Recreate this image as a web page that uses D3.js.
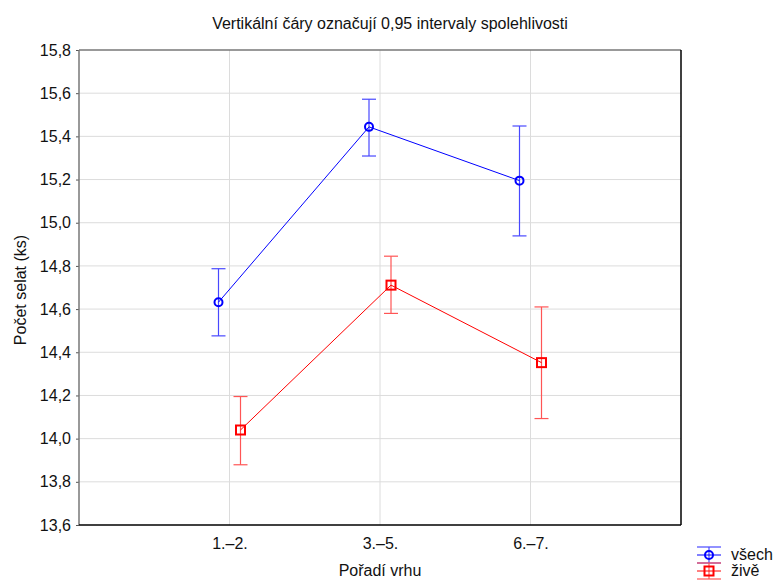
<!DOCTYPE html>
<html><head><meta charset="utf-8">
<script src="https://cdn.jsdelivr.net/npm/d3@7"></script>
<style>body{margin:0;background:#fff}svg{font-family:"Liberation Sans",Arial,sans-serif}</style>
</head><body><svg id="c" width="773" height="581"></svg>
<script>
const categories = ["1.–2.", "3.–5.", "6.–7."];
const seriesNames = ["všech", "živě"];
const vsechMean = [14.632, 15.444, 15.195];
const vsechLow = [14.476, 15.309, 14.939];
const vsechHigh = [14.787, 15.572, 15.448];
const ziveMean = [14.040, 14.711, 14.352];
const ziveLow = [13.879, 14.580, 14.093];
const ziveHigh = [14.195, 14.845, 14.610];
const yTicks = [13.6, 13.8, 14.0, 14.2, 14.4, 14.6, 14.8, 15.0, 15.2, 15.4, 15.6, 15.8];

const svg = d3.select("#c");
const L = 79, R = 681, T = 50, B = 525;
const x = d3.scalePoint().domain(["", ...categories, " "]).range([L, R]);
const y = d3.scaleLinear().domain([13.6, 15.8]).range([B, T]);
const fmt = v => d3.format(".1f")(v).replace(".", ",");

// grid
svg.append("g").selectAll("line").data(yTicks.slice(1, -1)).join("line")
  .attr("x1", L).attr("x2", R).attr("y1", d => y(d)).attr("y2", d => y(d))
  .attr("stroke", "#dcdcdc").attr("stroke-width", 1);
svg.append("g").selectAll("line").data(categories).join("line")
  .attr("x1", d => x(d)).attr("x2", d => x(d)).attr("y1", T).attr("y2", B)
  .attr("stroke", "#dcdcdc").attr("stroke-width", 1);

// axes
const yAxis = d3.axisLeft(y).tickValues(yTicks).tickFormat(fmt).tickSize(3).tickPadding(5);
const gy = svg.append("g").attr("transform", `translate(${L},0)`).call(yAxis);
gy.select(".domain").remove();
gy.selectAll("line").attr("stroke", "#555");
gy.selectAll("text").attr("font-size", 16).attr("fill", "#111");
const xAxis = d3.axisBottom(x).tickValues(categories).tickSize(0).tickPadding(13);
const gx = svg.append("g").attr("transform", `translate(0,${B})`).call(xAxis);
gx.select(".domain").remove();
gx.selectAll("text").attr("font-size", 16).attr("fill", "#111");

// frame
svg.append("line").attr("x1", L).attr("x2", R).attr("y1", T).attr("y2", T).attr("stroke", "#777").attr("stroke-width", 1.5);
svg.append("line").attr("x1", L).attr("x2", L).attr("y1", T).attr("y2", B).attr("stroke", "#777").attr("stroke-width", 1.5);
svg.append("line").attr("x1", L).attr("x2", R).attr("y1", B).attr("y2", B).attr("stroke", "#000").attr("stroke-width", 1.5);
svg.append("line").attr("x1", R).attr("x2", R).attr("y1", T).attr("y2", B).attr("stroke", "#000").attr("stroke-width", 1.5);

const series = [
  {name: seriesNames[0], mean: vsechMean, lo: vsechLow, hi: vsechHigh, color: "#0000ff", err: "#4848ff", off: -11, shape: "circle"},
  {name: seriesNames[1], mean: ziveMean, lo: ziveLow, hi: ziveHigh, color: "#ff0000", err: "#ff5555", off: 11, shape: "square"}
];

series.forEach(s => {
  const g = svg.append("g");
  const px = i => x(categories[i]) + s.off;
  categories.forEach((c, i) => {
    g.append("line").attr("x1", px(i)).attr("x2", px(i)).attr("y1", y(s.lo[i])).attr("y2", y(s.hi[i])).attr("stroke", s.err).attr("stroke-width", 1.2);
    [s.lo[i], s.hi[i]].forEach(v => g.append("line").attr("x1", px(i) - 7).attr("x2", px(i) + 7).attr("y1", y(v)).attr("y2", y(v)).attr("stroke", s.err).attr("stroke-width", 1.2));
  });
  g.append("path").datum(s.mean).attr("fill", "none").attr("stroke", s.color).attr("stroke-width", 1)
    .attr("d", d3.line().x((d, i) => px(i)).y(d => y(d)));
  s.mean.forEach((v, i) => {
    if (s.shape === "circle") g.append("circle").attr("cx", px(i)).attr("cy", y(v)).attr("r", 4).attr("fill", "none").attr("stroke", s.color).attr("stroke-width", 2);
    else g.append("rect").attr("x", px(i) - 4.5).attr("y", y(v) - 4.5).attr("width", 9).attr("height", 9).attr("fill", "none").attr("stroke", s.color).attr("stroke-width", 2);
  });
});

// title & labels
svg.append("text").attr("x", 390).attr("y", 29).attr("text-anchor", "middle").attr("font-size", 16).attr("fill", "#111")
  .text("Vertikální čáry označují 0,95 intervaly spolehlivosti");
svg.append("text").attr("x", 380).attr("y", 576).attr("text-anchor", "middle").attr("font-size", 16).attr("fill", "#111").text("Pořadí vrhu");
svg.append("text").attr("transform", "translate(26,290) rotate(-90)").attr("text-anchor", "middle").attr("font-size", 16).attr("fill", "#111").text("Počet selat (ks)");

// legend
series.forEach((s, k) => {
  const cy = 555 + k * 16, lx = 697, lw = 24, g = svg.append("g");
  [-8, 8].forEach(d => g.append("line").attr("x1", lx).attr("x2", lx + lw).attr("y1", cy + d).attr("y2", cy + d).attr("stroke", s.err).attr("stroke-width", 1.2));
  g.append("line").attr("x1", lx + lw / 2).attr("x2", lx + lw / 2).attr("y1", cy - 8).attr("y2", cy + 8).attr("stroke", s.err).attr("stroke-width", 1.2);
  g.append("line").attr("x1", lx).attr("x2", lx + lw).attr("y1", cy).attr("y2", cy).attr("stroke", s.color).attr("stroke-width", 1);
  if (s.shape === "circle") g.append("circle").attr("cx", lx + lw / 2).attr("cy", cy).attr("r", 4).attr("fill", "none").attr("stroke", s.color).attr("stroke-width", 2);
  else g.append("rect").attr("x", lx + lw / 2 - 4.5).attr("y", cy - 4.5).attr("width", 9).attr("height", 9).attr("fill", "none").attr("stroke", s.color).attr("stroke-width", 2);
  g.append("text").attr("x", 731).attr("y", cy + 5).attr("font-size", 16).attr("fill", "#111").text(s.name);
});
</script></body></html>
